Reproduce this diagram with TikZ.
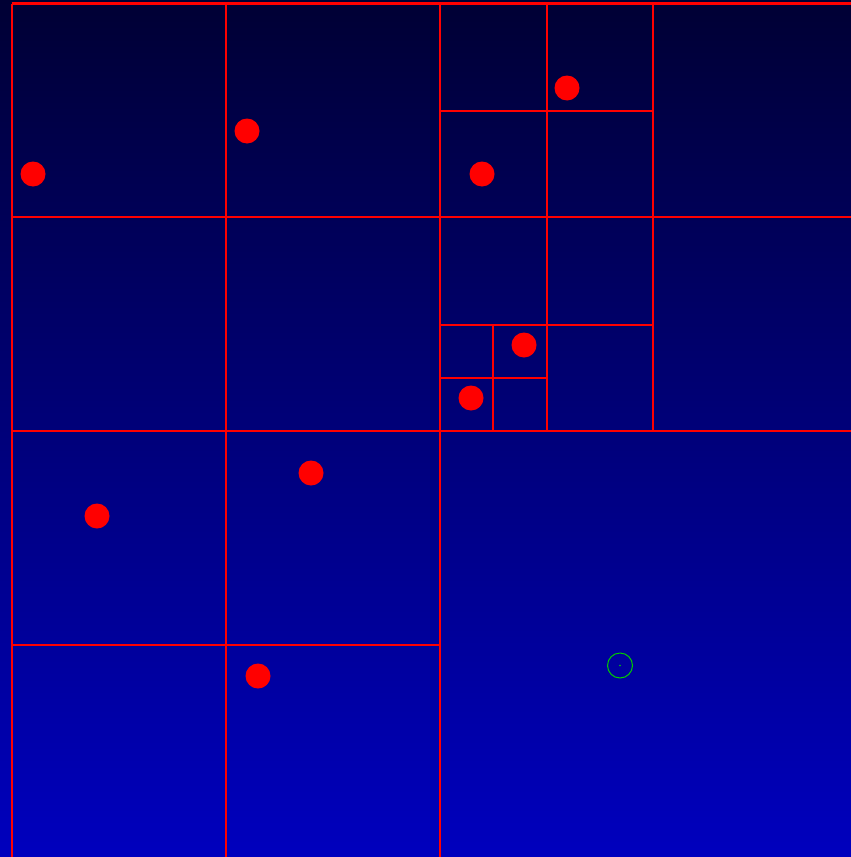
\documentclass[tikz,border=0pt]{standalone}
\begin{document}
\begin{tikzpicture}[x=1bp,y=-1bp,
  qline/.style={draw=red,line width=2bp},
  pt/.style={fill=red,draw=none},
  query/.style={draw=green!80!black,line width=1bp}]
\definecolor{topc}{RGB}{0,0,52}
\definecolor{botc}{RGB}{0,0,190}
\useasboundingbox (0,0) rectangle (851,857);
\shade[top color=topc,bottom color=botc] (0,0) rectangle (851,857);
\begin{scope}
\clip (0,0) rectangle (851,857);
% root
\draw[qline] (11.5,3.5) -- (867,3.5);
\draw[qline] (11.5,3.5) -- (11.5,859);
\draw[qline] (439.5,3) -- (439.5,859);
\draw[qline] (11,430.5) -- (867,430.5);
% TL quadrant
\draw[qline] (225.5,3) -- (225.5,431);
\draw[qline] (11,217) -- (439,217);
% TR quadrant
\draw[qline] (652.5,3) -- (652.5,431);
\draw[qline] (439,217) -- (867,217);
% TR-TL
\draw[qline] (546.5,3) -- (546.5,217);
\draw[qline] (439,110.5) -- (653,110.5);
% TR-BL
\draw[qline] (546.5,217) -- (546.5,431);
\draw[qline] (439,324.5) -- (653,324.5);
% TR-BL-BL
\draw[qline] (492.5,324) -- (492.5,431);
\draw[qline] (439,377.5) -- (546,377.5);
% BL quadrant
\draw[qline] (225.5,431) -- (225.5,859);
\draw[qline] (11,644.5) -- (439,644.5);
\end{scope}
% points
\foreach \n/\px/\py in {p1/33/174, p2/247/131, p3/567/88, p4/482/174, p5/524/345, p6/471/398, p7/97/516, p8/311/473, p9/258/676}
  \fill[pt] (\px,\py) circle (12.5);
% query
\draw[query] (620,665.5) circle (12.5);
\fill[green!80!black] (620,665.5) circle (0.8);
\end{tikzpicture}
\end{document}
